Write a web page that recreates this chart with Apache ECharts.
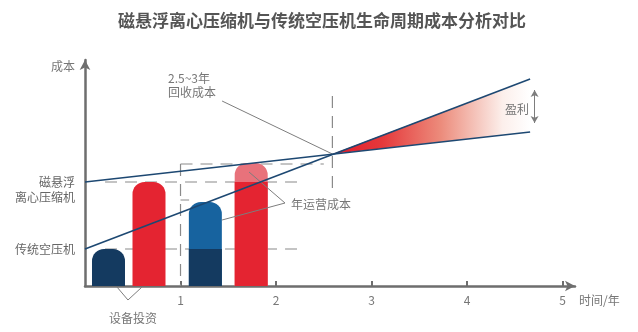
<!DOCTYPE html>
<html><head><meta charset="utf-8">
<script src="https://cdn.jsdelivr.net/npm/echarts@6/dist/echarts.min.js"></script>
<style>html,body{margin:0;padding:0;background:#fff}#c{width:638px;height:332px}</style>
</head><body><div id="c"></div>
<script>
// ---- data (schematic values; x = years, y = cost units) ----
const yearTicks = [1, 2, 3, 4, 5];
const levelTicks = [37, 104];
const levelLabels = {37: '传统空压机', 104: '\n磁悬浮\n离心压缩机'};
const navyBars = [[0.246, 37], [1.26, 37]];      // traditional equipment investment
const redBars = [[0.67, 104], [1.74, 104]];      // maglev equipment investment
const blueTop = [[1.26, 84]];                    // traditional + 1 yr operating
const pinkTop = [[1.74, 123]];                   // maglev + 1 yr operating
const maglevLine = [[0, 104], [4.66, 154]];
const tradLine = [[0, 37], [4.66, 207]];
const crossPoint = [2.59, 132];
const dashSegments = [
  [[0.21, 104], [2.30, 104]],
  [[0.21, 37], [2.28, 37]],
  [[1.0, 122], [2.5, 122]],
  [[1.0, 122], [1.0, 0]],
  [[1.0, 86], [1.09, 86]],
  [[2.59, 190], [2.59, 96]]
];
const leaderLines = [
  [[1.435, 185], crossPoint],
  [[1.717, 114], [2.094, 83], [1.435, 66]],
  [[0.335, -1], [0.45, -14], [0.597, -1]]
];
const profitArrow = [[4.707, 196], [4.707, 163]];

const FONT = 'Noto Sans CJK SC';
const chart = echarts.init(document.getElementById('c'), null, {renderer: 'canvas'});

const barBase = {type: 'bar', barWidth: 33, barGap: '-100%', silent: true};
const R = 12;
const series = [];

// gradient wedge (profit)
series.push({
  type: 'custom', z: 1, silent: true, clip: false,
  data: [crossPoint],
  renderItem: function (params, api) {
    const pts = [crossPoint, tradLine[1], maglevLine[1]].map(p => api.coord(p));
    return {
      type: 'polygon', shape: {points: pts},
      style: {fill: new echarts.graphic.LinearGradient(0, 0, 1, 0, [
        {offset: 0, color: '#e21b2b'},
        {offset: 0.25, color: '#e5383b'},
        {offset: 0.55, color: '#ec8c7c'},
        {offset: 0.86, color: '#fcefeb'},
        {offset: 1, color: '#ffffff'}
      ])}
    };
  }
});

// dashed guides
dashSegments.forEach(seg => series.push({
  type: 'line', data: seg, symbol: 'none', silent: true, z: 1,
  lineStyle: {color: '#8a8a8a', width: 1.2, type: [12, 8]}
}));

// bars
series.push(Object.assign({}, barBase, {z: 2,
  data: pinkTop.map(v => ({value: v, itemStyle: {borderRadius: [R, R, 0, 0]}})),
  itemStyle: {color: '#e8727b'}}));
series.push(Object.assign({}, barBase, {z: 2,
  data: blueTop.map(v => ({value: v, itemStyle: {borderRadius: [R, R, 0, 0]}})),
  itemStyle: {color: '#17639f'}}));
series.push(Object.assign({}, barBase, {z: 3,
  data: redBars.map((v, i) => ({value: v, itemStyle: {borderRadius: i === 0 ? [R, R, 0, 0] : 0}})),
  itemStyle: {color: '#e42431'}}));
series.push(Object.assign({}, barBase, {z: 3,
  data: navyBars.map((v, i) => ({value: v, itemStyle: {borderRadius: i === 0 ? [R, R, 0, 0] : 0}})),
  itemStyle: {color: '#143a60'}}));

// leader lines
leaderLines.forEach(seg => series.push({
  type: 'line', data: seg, symbol: 'none', silent: true, z: 5, clip: false,
  lineStyle: {color: '#7d7d7d', width: 1}
}));

// cost lines
[maglevLine, tradLine].forEach(seg => series.push({
  type: 'line', data: seg, symbol: 'none', silent: true, z: 6,
  lineStyle: {color: '#1d4872', width: 1.6}
}));

// profit arrow
series.push({
  type: 'line', data: [], silent: true,
  markLine: {silent: true, symbol: ['arrow', 'arrow'], symbolSize: [6, 7],
    label: {show: false}, lineStyle: {color: '#7d7d7d', width: 1, type: 'solid'},
    data: [[{coord: profitArrow[0]}, {coord: profitArrow[1]}]]}
});

const txt = {fill: '#777', font: '12px "' + FONT + '"'};
chart.setOption({
  animation: false,
  textStyle: {fontFamily: FONT},
  title: {text: '磁悬浮离心压缩机与传统空压机生命周期成本分析对比', left: 113, top: 7,
    textStyle: {fontSize: 17, fontWeight: 'bold', color: '#555', fontFamily: FONT}},
  grid: {left: 85, right: 63, top: 60, bottom: 46, containLabel: false, outerBoundsMode: 'none'},
  xAxis: {
    type: 'value', min: 0, max: 5.13, interval: 1,
    axisLine: {show: true, onZero: false, symbol: ['none', 'arrow'], symbolSize: [8, 10],
      lineStyle: {color: '#6e6e6e', width: 2.5}},
    axisTick: {show: true, inside: true, length: 5, customValues: yearTicks,
      lineStyle: {color: '#6e6e6e', width: 2}},
    axisLabel: {customValues: yearTicks, color: '#777', fontSize: 12, margin: 8, fontFamily: FONT},
    splitLine: {show: false},
    name: '时间/年', nameLocation: 'end', nameGap: 4,
    nameTextStyle: {color: '#777', fontSize: 12, verticalAlign: 'top', padding: [8, 0, 0, 0], fontFamily: FONT}
  },
  yAxis: {
    type: 'value', min: 0, max: 226,
    axisLine: {show: true, symbol: ['none', 'arrow'], symbolSize: [8, 10],
      lineStyle: {color: '#6e6e6e', width: 2.5}},
    axisTick: {show: false}, splitLine: {show: false},
    axisLabel: {customValues: levelTicks, formatter: v => levelLabels[v] || '',
      color: '#666', fontSize: 12, lineHeight: 15, margin: 10, fontFamily: FONT},
    name: '成本', nameLocation: 'end', nameGap: -6,
    nameTextStyle: {align: 'right', verticalAlign: 'middle', padding: [0, 10, 0, 0],
      color: '#777', fontSize: 12, fontFamily: FONT}
  },
  graphic: [
    {type: 'text', left: 168, top: 71, z: 10, style: Object.assign({text: '2.5~3年\n回收成本', lineHeight: 14.5}, txt)},
    {type: 'text', left: 291, top: 198, z: 10, style: Object.assign({text: '年运营成本'}, txt)},
    {type: 'text', left: 505, top: 103, z: 10, style: Object.assign({text: '盈利'}, txt)},
    {type: 'text', left: 109, top: 312, z: 10, style: Object.assign({text: '设备投资'}, txt)}
  ],
  series: series
});
</script>
</body></html>
